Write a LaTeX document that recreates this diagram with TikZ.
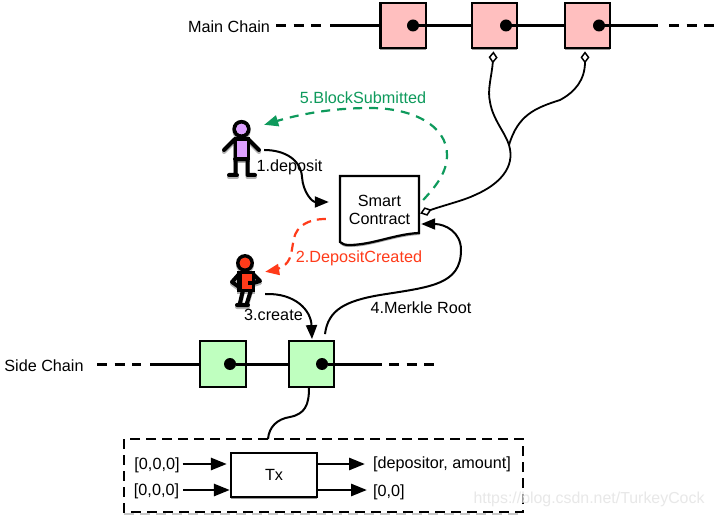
\documentclass[tikz,border=0pt]{standalone}
\usepackage{fontspec}
\setmainfont{Liberation Sans}
\usetikzlibrary{arrows.meta,shadows,calc}
\definecolor{mainpink}{HTML}{FFBFBF}
\definecolor{sidegreen}{HTML}{BFFFBF}
\definecolor{evgreen}{HTML}{0E9A5C}
\definecolor{evred}{HTML}{FF3B1A}
\definecolor{bodypurple}{HTML}{DDA0FF}
\tikzset{
  lbl/.style={inner sep=0pt,font=\fontsize{16.2}{18}\selectfont},
  softshadow/.style={drop shadow={shadow xshift=0pt,shadow yshift=-1.6pt,opacity=.4,fill=black}},
  block/.style={draw=black,line width=2.3pt,minimum width=45.5pt,minimum height=45.5pt,inner sep=0pt,softshadow},
  mainblock/.style={block,fill=mainpink},
  sideblock/.style={block,fill=sidegreen},
  blockdot/.style={circle,fill=black,minimum size=12pt,inner sep=0pt},
  chain/.style={line width=3pt,black},
  chaindash/.style={chain,dash pattern=on 10pt off 7.5pt},
  curve/.style={line width=2pt,black},
  tiparrow/.style={-{Triangle[length=14pt,width=11pt]}},
  linkdiamond/.style={{Diamond[open,fill=white,length=12pt,width=9pt,line width=1.5pt]}-},
  greenflow/.style={line width=2.2pt,evgreen,dash pattern=on 9pt off 7pt,-{Triangle[length=14pt,width=11pt]}},
  redflow/.style={line width=2.2pt,evred,dash pattern=on 9pt off 6pt,-{Triangle[length=14pt,width=11pt]}},
  iopin/.style={line width=2.8pt,black,-{Triangle[length=16pt,width=12pt]}},
  hidden/.style={inner sep=0pt,draw=none},
}
\newcommand{\figA}[1]{%
  \draw[#1,line width=4pt,line cap=round,line join=round]
    (224,150)--(235,139)--(248,139)--(259,150)
    (235.5,139)--(235.5,175) (247.5,139)--(247.5,175)
    (229,175)--(237,175) (248,175)--(255,175)
    (235,159)--(248,159);
  \fill[#1] (233.5,137) rectangle (249.5,160);
  \draw[#1,line width=3.8pt] (241.5,129) circle (7.2pt);
}
\newcommand{\figB}[1]{%
  \draw[#1,line width=4pt,line cap=round,line join=round]
    (240,273)--(232,282)--(242,289)
    (252,273)--(260,281)--(250,284)
    (243,290)--(240,303) (251,290)--(247,303)
    (237,305)--(248,305);
  \fill[#1] (237,271) rectangle (255,292);
  \draw[#1,line width=3.8pt] (245,263) circle (7pt);
}
\begin{document}
\begin{tikzpicture}[x=1pt,y=-1pt]
\useasboundingbox (0,0) rectangle (714,518);
\fill[white] (0,0) rectangle (714,518);

% main chain
\node[mainblock] (main1) at (403.2,25.5) {};
\node[mainblock] (main2) at (494.5,25.5) {};
\node[mainblock] (main3) at (587.5,25.5) {};
\node[blockdot] (mdot1) at (413,25.5) {};
\node[blockdot] (mdot2) at (506,25.5) {};
\node[blockdot] (mdot3) at (599,25.5) {};
\coordinate (mstart) at (276,25.5);
\coordinate (msolid) at (330,25.5);
\coordinate (mgap) at (321,25.5);
\coordinate (mendsolid) at (658,25.5);
\coordinate (mdash) at (669,25.5);
\coordinate (mend) at (714,25.5);
\draw[chaindash] (mstart) -- (mgap);
\draw[chain] (msolid) -- (main1.west);
\draw[chain] (mdot1) -- (main2.west);
\draw[chain] (mdot2) -- (main3.west);
\draw[chain] (mdot3) -- (mendsolid);
\draw[chaindash] (mdash) -- (mend);
\node[lbl] (mainlabel) at (229,26.5) {Main Chain};

% side chain
\node[sideblock] (side1) at (223,364) {};
\node[sideblock] (side2) at (311.5,364) {};
\node[blockdot] (sdot1) at (230,364) {};
\node[blockdot] (sdot2) at (322,364) {};
\coordinate (sstart) at (97,364);
\coordinate (sgap) at (141,364);
\coordinate (ssolid) at (150,364);
\coordinate (sendsolid) at (382,364);
\coordinate (sdash) at (389,364);
\coordinate (send) at (434,364);
\draw[chaindash] (sstart) -- (sgap);
\draw[chain] (ssolid) -- (side1.west);
\draw[chain] (sdot1) -- (side2.west);
\draw[chain] (sdot2) -- (sendsolid);
\draw[chaindash] (sdash) -- (send);
\node[lbl] (sidelabel) at (44,366) {Side Chain};

% smart contract document
\fill[black,opacity=.35] (340,178) -- (419.5,178) -- (419.5,235) .. controls (395,236) and (372,247) .. (349,247) .. controls (345,247) and (342,246) .. (340,244) -- cycle;
\draw[line width=2.2pt,fill=white,line join=miter] (340,176) -- (419,176) -- (419,233) .. controls (395,234) and (372,245) .. (349,245) .. controls (345,245) and (342,244) .. (340,242) -- cycle;
\node[hidden,minimum width=79pt,minimum height=64pt,align=center,font=\fontsize{16.2}{18.2}\selectfont] (contract) at (379.5,210) {Smart\\Contract};

% people
\begin{scope}[opacity=.3,shift={(0,2)}]\figA{black}\end{scope}
\figA{black}
\fill[bodypurple] (236.7,141) rectangle (246.7,157);
\fill[bodypurple] (241.5,129) circle (5.4pt);
\node[hidden,minimum width=45pt,minimum height=50pt] (alice) at (241.5,150) {};

\begin{scope}[opacity=.3,shift={(0,2)}]\figB{black}\end{scope}
\figB{black}
\fill[evred] (242,274) rectangle (252,289);
\fill[black] (248,281) rectangle (253,285);
\fill[evred] (245,263) circle (5.5pt);
\node[hidden,minimum width=40pt,minimum height=44pt] (bob) at (245,294) {};

% links main chain to contract
\coordinate (merge) at (509,145);
\draw[curve,line width=1.8pt,linkdiamond] ($(main2.south)+(-1,2)$) .. controls (492,75) and (487,90) .. (490,102) .. controls (493,120) and (505,132) .. (merge);
\draw[curve,line width=1.8pt,linkdiamond] ($(main3.south)+(-2.5,2)$) .. controls (585,80) and (575,92) .. (560,100) .. controls (535,108) and (518,115) .. (merge);
\draw[curve,line width=1.8pt,linkdiamond] ($(contract.east)+(1,3.5)$) .. controls (445,205) and (465,200) .. (475,195) .. controls (498,185) and (516,168) .. (merge);

% flows
\draw[curve,tiparrow] (alice.east) .. controls (285,150) and (301,160) .. (302,177) .. controls (303,192) and (312,202) .. ($(contract.west)+(-11,-8)$);
\draw[greenflow] ($(contract.east)+(4,-10)$) .. controls (437,185) and (447,172) .. (447,155) .. controls (447,125) and (412,108) .. (370,108) .. controls (330,108) and (297,115) .. (alice.north east);
\draw[redflow] ($(contract.west)+(-14,9)$) .. controls (308,219) and (297,226) .. (294,238) .. controls (291,252) and (292,261) .. (282,267) .. controls (276,270) and (270,271) .. (bob.north east);
\draw[curve,tiparrow] (bob.east) .. controls (295,293) and (311,310) .. ($(side2.north)+(0.5,-1)$);
\draw[curve,tiparrow] ($(side2.north)+(13.5,-6)$) .. controls (328,310) and (345,301) .. (380,295) .. controls (430,287) and (461,285) .. (461,250) .. controls (461,232) and (445,224) .. ($(contract.east)+(2,14)$);

% transaction box
\draw[line width=2.4pt,dash pattern=on 10pt off 6pt,black,opacity=.22] (124,514) -- (523,514);
\draw[line width=2.4pt,dash pattern=on 10pt off 6pt] (124,439) rectangle (523,512);
\node[draw=black,line width=2.3pt,fill=white,minimum width=86pt,minimum height=44pt,inner sep=0pt,softshadow,lbl] (tx) at (274,475) {Tx};
\coordinate (boxtop) at (268,439);
\draw[curve] ($(side2.south)+(-2.5,0)$) .. controls (309,405) and (305,414) .. (290,417) .. controls (277,419) and (269,427) .. (boxtop);

\node[lbl] (in1) at (157,465) {[0,0,0]};
\node[lbl] (in2) at (156.5,491) {[0,0,0]};
\node[lbl,anchor=west] (out1) at (373,464) {[depositor, amount]};
\node[lbl,anchor=west] (out2) at (373,492) {[0,0]};
\draw[iopin] ($(in1.east)+(3,-1)$) -- ($(tx.west)+(-3,-11)$);
\draw[iopin] ($(in2.east)+(4,-1)$) -- ($(tx.west)+(0,15)$);
\draw[iopin] ($(tx.east)+(0,-11)$) -- ($(out1.west)+(-8,0)$);
\draw[iopin] ($(tx.east)+(0,15)$) -- ($(out2.west)+(-6,-2)$);

% labels
\node[lbl,text=evgreen] (l5) at (363,97.5) {5.BlockSubmitted};
\node[lbl] (l1) at (289.5,167.5) {1.deposit};
\node[lbl,text=evred] (l2) at (359,258) {2.DepositCreated};
\node[lbl] (l3) at (273.5,314.5) {3.create};
\node[lbl] (l4) at (421,307.5) {4.Merkle Root};
\node[inner sep=0pt,font=\fontsize{15.9}{18}\selectfont,text=black!9] (mark) at (589,499) {https://blog.csdn.net/TurkeyCock};
\end{tikzpicture}
\end{document}
